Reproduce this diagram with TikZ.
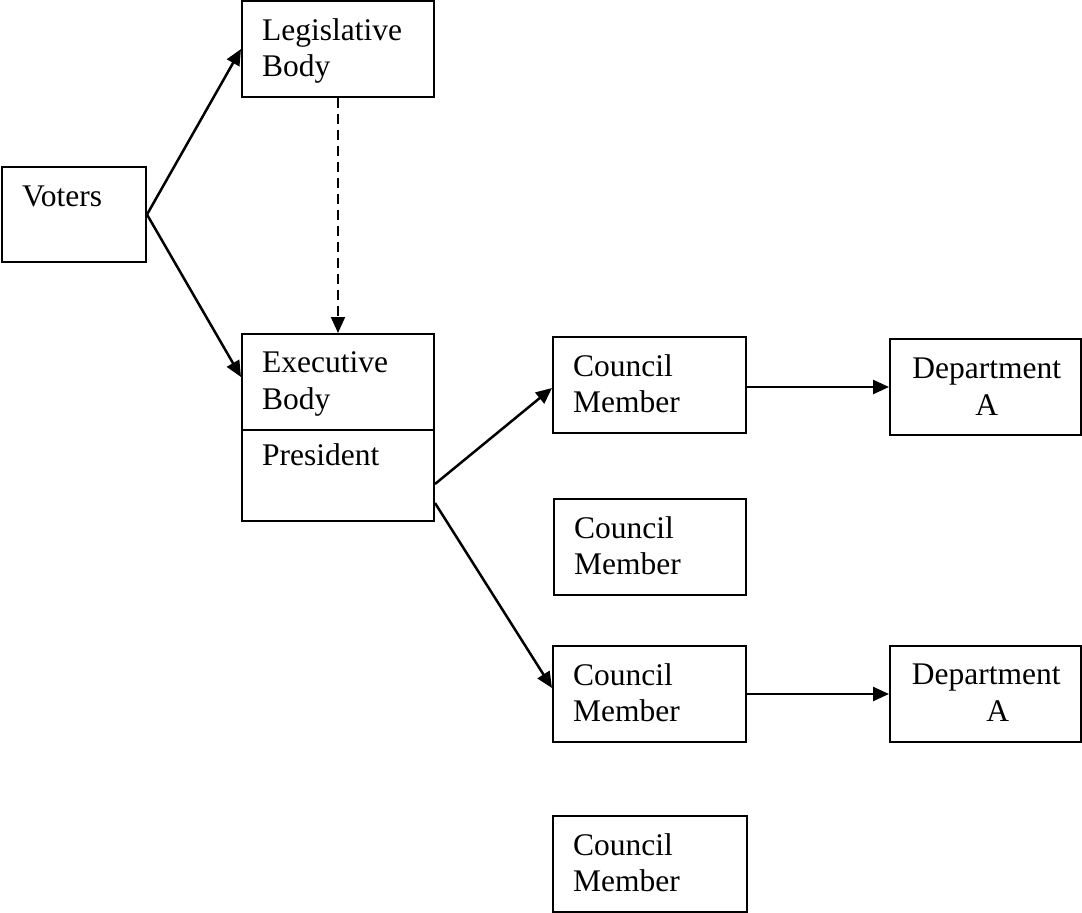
\documentclass[tikz,border=0pt]{standalone}
\usepackage{fontspec}
\setmainfont{Liberation Serif}
\usetikzlibrary{arrows.meta,calc}
\begin{document}
\begin{tikzpicture}[x=1pt,y=-1pt,
  box/.style={draw,line width=2pt,inner sep=0pt,minimum height=96pt},
  lbl/.style={anchor=base west,inner sep=0pt,font=\fontsize{31.5}{36}\selectfont},
  clbl/.style={anchor=base,inner sep=0pt,font=\fontsize{31.5}{36}\selectfont},
  conn/.style={line width=2.5pt,-{Triangle[length=16pt,width=14pt]}},
  dashconn/.style={conn,line width=2pt,dash pattern=on 10pt off 6pt}]
\useasboundingbox (0,0) rectangle (1082,913);
% boxes
\node[box,minimum width=192pt,minimum height=95.5pt] (leg) at (338,49) {};
\node[box,minimum width=144pt,minimum height=95pt] (voters) at (74,214.5) {};
\node[box,minimum width=192pt,minimum height=187pt] (exec) at (338,427.5) {};
\node[box,minimum width=193pt] (c1) at (649.5,385) {};
\node[box,minimum width=190.5pt] (d1) at (985.25,387) {};
\node[box,minimum width=192pt] (c2) at (650,547) {};
\node[box,minimum width=193pt] (c3) at (649.5,694) {};
\node[box,minimum width=190.5pt] (d2) at (985.25,694) {};
\node[box,minimum width=194pt] (c4) at (650,864) {};
\draw[line width=2pt] ($(exec.north west)+(0,97)$) -- ($(exec.north east)+(0,97)$);
% texts
\node[lbl] (legA) at ($(leg.north west)+(21,40)$) {Legislative};
\node[lbl] (legB) at ($(leg.north west)+(21,76)$) {Body};
\node[lbl] (votA) at ($(voters.north west)+(21,40)$) {Voters};
\node[lbl] (exA) at ($(exec.north west)+(21,39)$) {Executive};
\node[lbl] (exB) at ($(exec.north west)+(21,76)$) {Body};
\node[lbl] (exC) at ($(exec.north west)+(21,132)$) {President};
\foreach \c in {c1,c2,c3,c4}{
  \node[lbl] (\c A) at ($(\c.north west)+(21,40)$) {Council};
  \node[lbl] (\c B) at ($(\c.north west)+(21,76)$) {Member};
}
\node[clbl] (d1A) at ($(d1.north)+(1.5,40)$) {Department};
\node[clbl] (d1B) at ($(d1.north)+(1.5,77)$) {A};
\node[clbl] (d2A) at ($(d2.north)+(1,39)$) {Department};
\node[clbl] (d2B) at ($(d2.north)+(12.5,76)$) {A};
% connectors
\draw[conn] (voters.east) -- (leg.west);
\draw[conn] (voters.east) -- ($(exec.north west)+(0,44)$);
\draw[dashconn] (leg.south) -- (exec.north);
\draw[conn] ($(exec.south east)+(0,-38)$) -- ($(c1.west)+(0,3)$);
\draw[conn] ($(exec.south east)+(0,-19)$) -- ($(c3.west)+(0,-6)$);
\draw[conn] (c1.east |- d1.west) -- (d1.west);
\draw[conn] (c3.east) -- (d2.west);
\end{tikzpicture}
\end{document}
